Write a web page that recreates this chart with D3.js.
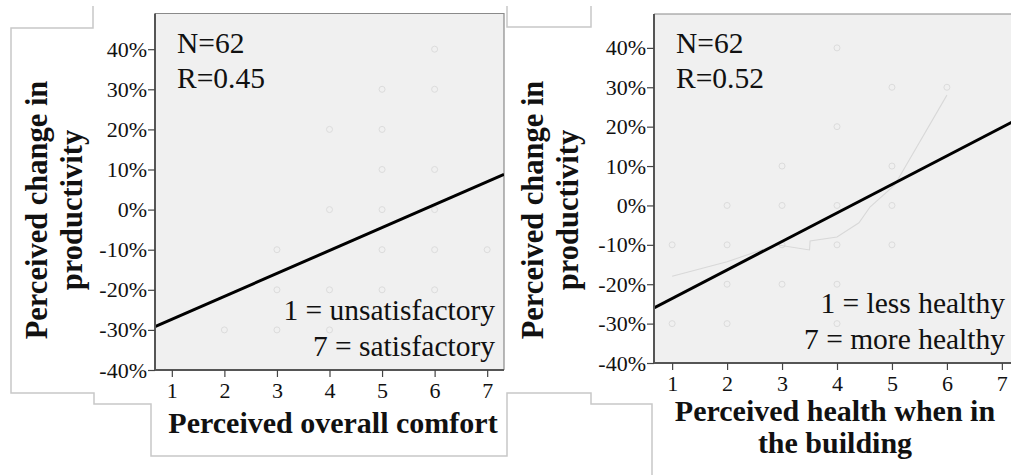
<!DOCTYPE html>
<html><head><meta charset="utf-8">
<script src="https://cdn.jsdelivr.net/npm/d3@7"></script>
<style>
html,body{margin:0;padding:0;background:#fff;}
svg text{font-family:"Liberation Serif","Times New Roman","DejaVu Serif",serif;fill:#111;}
</style></head>
<body><svg id="c" width="1011" height="475"></svg>
<script>
// ---------- data ----------
const xTicks = [1, 2, 3, 4, 5, 6, 7];
const yTicks = [-40, -30, -20, -10, 0, 10, 20, 30, 40];

const comfortX = [6, 5, 6, 4, 5, 5, 6, 4, 5, 6, 3, 5, 6, 7, 3, 4, 5, 6, 2, 3, 4];
const comfortY = [40, 30, 30, 20, 20, 10, 10, 0, 0, 0, -10, -10, -10, -10, -20, -20, -20, -20, -30, -30, -30];
const comfortFitX = [0.68, 7.32];
const comfortFitY = [-29.2, 8.8];

const healthX = [4, 5, 6, 4, 3, 5, 2, 3, 4, 5, 1, 2, 3, 4, 5, 2, 3, 4, 1, 2, 4];
const healthY = [40, 30, 30, 20, 10, 10, 0, 0, 0, 0, -10, -10, -10, -10, -10, -20, -20, -20, -30, -30, -30];
const healthFitX = [0.67, 7.33];
const healthFitY = [-26, 22.2];
const healthLoessX = [1, 2, 2.9, 3.5, 3.51, 4, 4.4, 4.6, 5.05, 6];
const healthLoessY = [-18, -14.3, -10, -11.3, -9, -8, -4.4, -0.4, 5.2, 28];

const panels = [
  {xs: comfortX, ys: comfortY, fx: comfortFitX, fy: comfortFitY, lx: null, ly: null,
   n: "N=62", r: "R=0.45", note: ["1 = unsatisfactory", "7 = satisfactory"],
   xTitle: ["Perceived overall comfort"], yTitle: ["Perceived change in", "productivity"]},
  {xs: healthX, ys: healthY, fx: healthFitX, fy: healthFitY, lx: healthLoessX, ly: healthLoessY,
   n: "N=62", r: "R=0.52", note: ["1 = less healthy", "7 = more healthy"],
   xTitle: ["Perceived health when in", "the building"], yTitle: ["Perceived change in", "productivity"]}
];

// ---------- layout ----------
const layout = [
  {x0: 155, x1: 504, y0: 370, y1: 13.5, xd: [0.68, 7.32], yd: [-40, 48.9], yTitleX: 47, noteX: 495, noteY: 320, xTitleY: 433, xTitleC: 333},
  {x0: 654, x1: 1020, y0: 363, y1: 14, xd: [0.67, 7.33], yd: [-40, 48.6], yTitleX: 543, noteX: 1005, noteY: 313, xTitleY: 421, xTitleC: 835}
];

const svg = d3.select("#c");
svg.append("rect").attr("width", 1011).attr("height", 475).attr("fill", "#fff");

// decorative output frames
const frameStroke = "#c8c8c8";
const fr = d3.line();
svg.append("path").attr("d", fr([[93,6],[93,28],[11,28],[11,393],[94,393],[94,404],[151,404],[151,456],[507,456],[507,393],[591,393],[591,404],[652,404],[652,476]]))
  .attr("fill", "none").attr("stroke", frameStroke).attr("stroke-width", 1.5);
svg.append("path").attr("d", fr([[507,6],[507,27],[591,27],[591,6]]))
  .attr("fill", "none").attr("stroke", frameStroke).attr("stroke-width", 1.5);

panels.forEach((p, i) => {
  const L = layout[i];
  const x = d3.scaleLinear().domain(L.xd).range([L.x0, L.x1]);
  const y = d3.scaleLinear().domain(L.yd).range([L.y0, L.y1]);
  const g = svg.append("g");

  const clipId = "clip" + i;
  g.append("clipPath").attr("id", clipId).append("rect")
    .attr("x", L.x0).attr("y", L.y1).attr("width", L.x1 - L.x0).attr("height", L.y0 - L.y1);

  g.append("rect").attr("x", L.x0).attr("y", L.y1).attr("width", L.x1 - L.x0).attr("height", L.y0 - L.y1)
    .attr("fill", "#f0f0f0");
  // top/right border
  g.append("path").attr("d", `M${L.x0},${L.y1}H${L.x1}V${L.y0}`).attr("fill", "none")
    .attr("stroke", "#8a8a8a").attr("stroke-width", 1.2);

  const plot = g.append("g").attr("clip-path", `url(#${clipId})`);
  plot.selectAll("circle").data(p.xs.map((v, k) => [v, p.ys[k]])).join("circle")
    .attr("cx", d => x(d[0])).attr("cy", d => y(d[1])).attr("r", 3)
    .attr("fill", "none").attr("stroke", "#dcdcdc").attr("stroke-width", 1);

  if (p.lx) {
    plot.append("path").datum(p.lx.map((v, k) => [v, p.ly[k]]))
      .attr("d", d3.line().x(d => x(d[0])).y(d => y(d[1])))
      .attr("fill", "none").attr("stroke", "#d8d8d8").attr("stroke-width", 1.1);
  }
  plot.append("path").datum(p.fx.map((v, k) => [v, p.fy[k]]))
    .attr("d", d3.line().x(d => x(d[0])).y(d => y(d[1])))
    .attr("fill", "none").attr("stroke", "#000").attr("stroke-width", 3);

  // axes
  const ya = g.append("g").attr("transform", `translate(${L.x0},0)`)
    .call(d3.axisLeft(y).tickValues(yTicks).tickFormat(d => d + "%").tickSize(7).tickPadding(1).tickSizeOuter(0));
  ya.select(".domain").attr("d", `M0,${L.y1}V${L.y0}`).attr("stroke", "#555").attr("stroke-width", 2);
  ya.selectAll(".tick line").attr("stroke", "#444").attr("stroke-width", 1.2);
  ya.selectAll(".tick text").attr("font-size", 22).attr("fill", "#111");

  const xa = g.append("g").attr("transform", `translate(0,${L.y0})`)
    .call(d3.axisBottom(x).tickValues(xTicks).tickFormat(d3.format("d")).tickSize(7).tickPadding(5).tickSizeOuter(0));
  xa.select(".domain").attr("d", `M${L.x0},0H${L.x1}`).attr("stroke", "#555").attr("stroke-width", 2);
  xa.selectAll(".tick line").attr("stroke", "#444").attr("stroke-width", 1.2);
  xa.selectAll(".tick text").attr("font-size", 22).attr("fill", "#111");

  // annotations
  g.append("text").attr("x", L.x0 + 22).attr("y", 53).attr("font-size", 29.5).text(p.n);
  g.append("text").attr("x", L.x0 + 22).attr("y", 88).attr("font-size", 29.5).text(p.r);
  p.note.forEach((t, k) => g.append("text").attr("x", L.noteX).attr("y", L.noteY + k * 36)
    .attr("text-anchor", "end").attr("font-size", 29.5).text(t));

  // titles
  p.xTitle.forEach((t, k) => g.append("text").attr("x", L.xTitleC).attr("y", L.xTitleY + k * 32)
    .attr("text-anchor", "middle").attr("font-size", 30).attr("font-weight", "bold").text(t));
  p.yTitle.forEach((t, k) => g.append("text")
    .attr("transform", `translate(${L.yTitleX + k * 35},210) rotate(-90)`)
    .attr("text-anchor", "middle").attr("font-size", 30.5).attr("font-weight", "bold").text(t));
});
</script></body></html>
